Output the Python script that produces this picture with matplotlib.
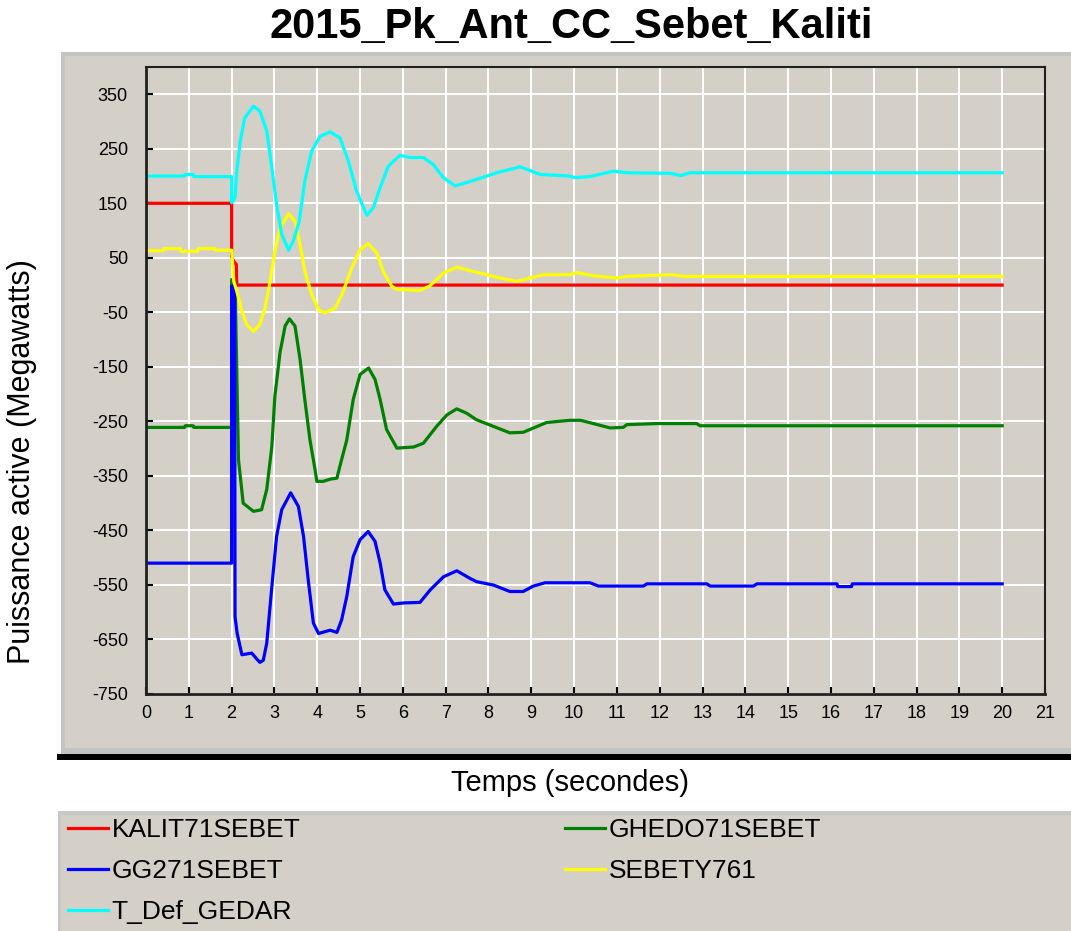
import numpy as np
import matplotlib.pyplot as plt
from matplotlib.patches import Rectangle

plt.rcParams['font.family'] = ['Liberation Sans', 'DejaVu Sans']
plt.rcParams['axes.unicode_minus'] = False

title = '2015_Pk_Ant_CC_Sebet_Kaliti'
xlabel = 'Temps (secondes)'
ylabel = 'Puissance active (Megawatts)'

# KALIT71SEBET (red)
t_kalit = [0, 2.0, 2.0, 2.04, 2.1, 2.11, 2.12, 20]
p_kalit = [150, 150, 52, 45, 38, 38, 0, 0]

# GHEDO71SEBET (green)
t_ghedo = [0, 0.9, 0.92, 1.1, 1.12, 2.0, 2.0, 2.08, 2.16, 2.27, 2.51, 2.7, 2.82, 2.94,
           3.01, 3.13, 3.25, 3.35, 3.48, 3.6, 3.71, 3.83, 3.95, 3.99, 4.14, 4.3, 4.46,
           4.53, 4.69, 4.84, 5.0, 5.2, 5.35, 5.47, 5.62, 5.86, 6.25, 6.48, 6.79, 7.03,
           7.26, 7.49, 7.72, 8.11, 8.5, 8.81, 9.36, 9.9, 10.15, 10.45, 10.84, 11.15,
           11.23, 11.93, 12.86, 12.94, 20]
p_ghedo = [-261, -261, -258, -258, -261, -261, 10, 5, -320, -400, -415, -412, -375, -296,
           -204, -124, -75, -62, -75, -137, -210, -284, -339, -360, -360, -356, -354,
           -332, -284, -210, -164, -152, -173, -210, -265, -299, -297, -290, -259, -238,
           -227, -235, -247, -259, -271, -270, -252, -248, -248, -254, -262, -261,
           -256, -254, -254, -258, -258]

# GG271SEBET (blue)
t_gg = [0, 2.0, 2.0, 2.07, 2.08, 2.13, 2.24, 2.47, 2.59, 2.66, 2.74, 2.82, 2.94, 3.05,
        3.17, 3.38, 3.56, 3.68, 3.79, 3.91, 4.03, 4.3, 4.46, 4.57, 4.69, 4.84, 5.0,
        5.19, 5.35, 5.47, 5.58, 5.78, 6.01, 6.4, 6.64, 6.95, 7.26, 7.57, 7.72, 8.11,
        8.5, 8.81, 9.05, 9.32, 10.37, 10.57, 11.62, 11.7, 13.1, 13.18, 14.19, 14.27,
        16.14, 16.16, 16.48, 16.5, 20]
p_gg = [-510, -510, -2, -2, -608, -639, -678, -675, -686, -692, -688, -657, -553, -461,
        -412, -381, -406, -461, -541, -620, -639, -633, -637, -614, -571, -498, -467,
        -452, -470, -510, -559, -585, -583, -582, -559, -535, -524, -538, -544, -550,
        -562, -562, -552, -546, -546, -552, -552, -548, -548, -552, -552, -548,
        -548, -553, -553, -548, -548]

# SEBETY761 (yellow)
t_sebety = [0, 0.4, 0.42, 0.8, 0.82, 1.2, 1.22, 1.6, 1.62, 2.0, 2.02, 2.05, 2.12, 2.24,
            2.35, 2.51, 2.66, 2.78, 2.9, 3.01, 3.13, 3.33, 3.48, 3.6, 3.71, 3.87, 4.03,
            4.18, 4.42, 4.61, 4.81, 5.0, 5.19, 5.39, 5.54, 5.74, 5.86, 6.4, 6.64, 6.95,
            7.26, 7.65, 7.96, 8.27, 8.66, 9.28, 9.9, 10.06, 10.45, 11.0, 11.23, 12.3,
            12.55, 20]
p_sebety = [63, 63, 67, 67, 62, 62, 67, 67, 64, 64, 44, 7, -11, -48,
            -72, -85, -72, -42, 7, 62, 105, 131, 117, 74, 25, -17, -45,
            -51, -42, -11, 32, 65, 76, 59, 25, -2, -8, -10, -1, 22,
            33, 25, 19, 13, 7, 19, 19, 23, 17, 13, 16, 19,
            16, 16]

# T_Def_GEDAR (cyan)
t_gedar = [0, 0.9, 0.92, 1.1, 1.12, 2.0, 2.0, 2.08, 2.12, 2.2, 2.31, 2.51, 2.66, 2.82,
           2.94, 3.05, 3.17, 3.33, 3.44, 3.58, 3.71, 3.87, 4.07, 4.3, 4.53, 4.73, 4.92,
           5.16, 5.31, 5.47, 5.66, 5.93, 6.17, 6.48, 6.71, 6.95, 7.22, 7.49, 7.96, 8.19,
           8.74, 9.2, 9.9, 10.0, 10.37, 10.92, 11.23, 12.24, 12.5, 12.71, 20]
p_gedar = [200, 200, 203, 203, 199, 199, 151, 160, 209, 264, 307, 328, 319, 283,
           215, 148, 93, 64, 81, 117, 191, 246, 273, 281, 270, 227, 172,
           128, 142, 179, 218, 238, 234, 234, 221, 197, 182, 188, 200, 206,
           217, 203, 200, 197, 199, 209, 206, 205, 201, 206, 206]

series = [
    ('KALIT71SEBET', t_kalit, p_kalit, '#FF0000'),
    ('GHEDO71SEBET', t_ghedo, p_ghedo, '#008000'),
    ('GG271SEBET', t_gg, p_gg, '#0000FF'),
    ('SEBETY761', t_sebety, p_sebety, '#FFFF00'),
    ('T_Def_GEDAR', t_gedar, p_gedar, '#00FFFF'),
]

x_ticks = np.arange(0, 22, 1)
y_ticks = np.arange(-750, 351, 100)

W, H = 1071, 931
bg = '#D4D0C8'

fig = plt.figure(figsize=(W / 100, H / 100), dpi=100)
fig.patch.set_facecolor('white')


def box(x0, y0, x1, y1, color):
    # rectangle given in pixel coords (top-left origin)
    fig.add_artist(Rectangle((x0 / W, 1 - y1 / H), (x1 - x0) / W, (y1 - y0) / H,
                             transform=fig.transFigure, facecolor=color,
                             edgecolor='none', zorder=-5))


# chart panel
box(61, 52, 1071, 754, '#C4C4C4')
box(65, 56, 1071, 748, bg)
box(57, 754, 1071, 760, '#000000')
# legend panel
box(58, 811, 1071, 931, '#C8C8C8')
box(61, 815, 1071, 931, bg)

ax = fig.add_axes([146 / W, 1 - 694 / H, (1045 - 146) / W, (694 - 67) / H])
ax.set_facecolor(bg)

lines = {}
for name, t, p, c in series:
    lines[name], = ax.plot(t, p, color=c, lw=2.3, label=name, solid_joinstyle='round')

ax.set_xlim(0, 21)
ax.set_ylim(-750, 400)
ax.set_xticks(x_ticks)
ax.set_yticks(y_ticks)
ax.grid(True, color='white', lw=1.4)
ax.set_axisbelow(True)
ax.tick_params(direction='in', length=5, width=1.5, labelsize=13, color='black')
ax.tick_params(axis='y', pad=13)
ax.tick_params(axis='x', pad=8)
for sp in ax.spines.values():
    sp.set_color('#202020')
    sp.set_linewidth(1.5)
ax.spines['left'].set_linewidth(2)
ax.spines['bottom'].set_linewidth(2)

ax.set_ylabel(ylabel, fontsize=22)
ax.yaxis.set_label_coords(-0.138, 0.37)
ax.set_xlabel(xlabel, fontsize=21)
ax.xaxis.set_label_coords((570 - 146) / (1045 - 146), (694 - 783) / (694 - 67))
ax.xaxis.label.set_va('center')
ax.yaxis.label.set_va('center')

fig.text(571 / W, 1 - 27 / H, title, fontsize=30, fontweight='bold',
         ha='center', va='center')

leg_kw = dict(loc='upper left', frameon=False, fontsize=19, handlelength=1.5,
              handletextpad=0.15, labelspacing=0.64, borderpad=0, borderaxespad=0)
fig.legend([lines[n] for n in ['KALIT71SEBET', 'GG271SEBET', 'T_Def_GEDAR']],
           ['KALIT71SEBET', 'GG271SEBET', 'T_Def_GEDAR'],
           bbox_to_anchor=(68 / W, 1 - 818 / H), **leg_kw)
fig.legend([lines[n] for n in ['GHEDO71SEBET', 'SEBETY761']],
           ['GHEDO71SEBET', 'SEBETY761'],
           bbox_to_anchor=(565 / W, 1 - 818 / H), **leg_kw)

fig.savefig('out.png', dpi=100)
